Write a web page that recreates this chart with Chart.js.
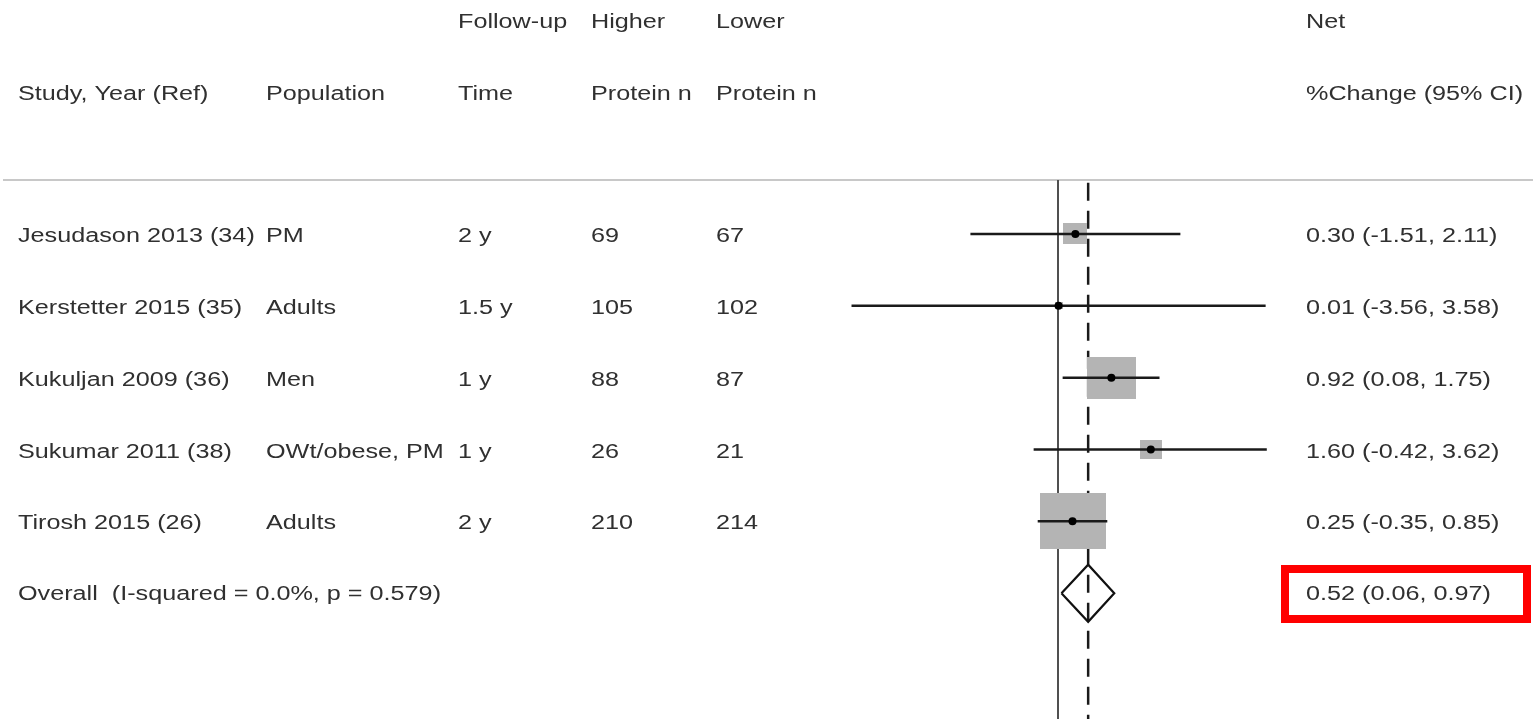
<!DOCTYPE html>
<html>
<head>
<meta charset="utf-8">
<script src="https://cdn.jsdelivr.net/npm/chart.js@4.4.1/dist/chart.umd.min.js"></script>
<style>
  html, body { margin: 0; padding: 0; background: #ffffff; overflow: hidden; }
  canvas { display: block; }
</style>
</head>
<body>
<canvas id="forest" width="1533" height="719"></canvas>
<script>
// Study rows
const studies    = ['Jesudason 2013 (34)', 'Kerstetter 2015 (35)', 'Kukuljan 2009 (36)', 'Sukumar 2011 (38)', 'Tirosh 2015 (26)'];
const population = ['PM', 'Adults', 'Men', 'OWt/obese, PM', 'Adults'];
const followUp   = ['2 y', '1.5 y', '1 y', '1 y', '2 y'];
const nHigher    = [69, 105, 88, 26, 210];
const nLower     = [67, 102, 87, 21, 214];
// Net % change with 95% CI
const estimate   = [0.30, 0.01, 0.92, 1.60, 0.25];
const ciLow      = [-1.51, -3.56, 0.08, -0.42, -0.35];
const ciHigh     = [2.11, 3.58, 1.75, 3.62, 0.85];
// Study weights (%), drive the box sizes
const weights    = [7.3, 0.9, 30.5, 6.1, 55.2];
// Pooled estimate
const overallEst = 0.52;
const overallLow = 0.06;
const overallHigh = 0.97;
const iSquared = '0.0%';
const pHet = '0.579';

// Column headings: [line 1, line 2]
const headers = [
  ['', 'Study, Year (Ref)'],
  ['', 'Population'],
  ['Follow-up', 'Time'],
  ['Higher', 'Protein n'],
  ['Lower', 'Protein n'],
  ['Net', '%Change (95% CI)']
];

const colX = [18, 266, 458, 591, 716, 1306];
const TEXT_COLOR = '#303030';
const FONT = '20px "Liberation Sans", Arial, Helvetica, sans-serif';
const TEXT_STRETCH = 1.26;

const fmt = v => v.toFixed(2);
const ciLabel = (e, l, h) => fmt(e) + ' (' + fmt(l) + ', ' + fmt(h) + ')';

// Gray weight box as a point image
function boxImage(w) {
  const width = Math.max(6, 8.88 * Math.sqrt(w));
  const height = width / 1.17;
  const c = document.createElement('canvas');
  c.width = Math.round(width);
  c.height = Math.round(height);
  const g = c.getContext('2d');
  g.fillStyle = '#b4b4b4';
  g.fillRect(0, 0, c.width, c.height);
  return c;
}
const boxImages = weights.map(boxImage);

const yMin = -0.75, yMax = 6.75;
const overallRow = studies.length;
const diamondHalf = 0.397;

const datasets = [];

// study point estimates
datasets.push({
  type: 'scatter',
  data: estimate.map((e, i) => ({ x: e, y: i })),
  pointRadius: 4,
  pointStyle: 'circle',
  backgroundColor: '#000000',
  borderColor: '#000000',
  borderWidth: 0,
  order: 0
});

// confidence intervals
studies.forEach((s, i) => {
  datasets.push({
    type: 'line',
    data: [{ x: ciLow[i], y: i }, { x: ciHigh[i], y: i }],
    borderColor: '#1a1a1a',
    borderWidth: 2.5,
    pointRadius: 0,
    fill: false,
    order: 1
  });
});

// weight boxes
datasets.push({
  type: 'scatter',
  data: estimate.map((e, i) => ({ x: e, y: i })),
  pointRadius: 5,
  pointStyle: ctx => boxImages[ctx.dataIndex],
  backgroundColor: '#b4b4b4',
  borderWidth: 0,
  order: 2
});

// pooled diamond
datasets.push({
  type: 'line',
  data: [
    { x: overallLow, y: overallRow },
    { x: overallEst, y: overallRow - diamondHalf },
    { x: overallHigh, y: overallRow },
    { x: overallEst, y: overallRow + diamondHalf },
    { x: overallLow, y: overallRow }
  ],
  borderColor: '#111111',
  borderWidth: 2.2,
  pointRadius: 0,
  fill: false,
  tension: 0,
  order: 3
});

// pooled estimate reference (dashed)
datasets.push({
  type: 'line',
  data: [{ x: overallEst, y: yMin + 0.04 }, { x: overallEst, y: yMax }],
  borderColor: '#1a1a1a',
  borderWidth: 2.5,
  borderDash: [18, 10],
  pointRadius: 0,
  fill: false,
  order: 4
});

// line of no effect
datasets.push({
  type: 'line',
  data: [{ x: 0, y: yMin }, { x: 0, y: yMax }],
  borderColor: '#505050',
  borderWidth: 2,
  pointRadius: 0,
  fill: false,
  order: 5
});

function drawText(ctx, text, x, y) {
  ctx.save();
  ctx.translate(x, y);
  ctx.scale(TEXT_STRETCH, 1);
  ctx.fillText(text, 0, 0);
  ctx.restore();
}

const tablePlugin = {
  id: 'forestTable',
  beforeDatasetsDraw(chart) {
    const ctx = chart.ctx;
    ctx.save();
    ctx.strokeStyle = '#c8c8c8';
    ctx.lineWidth = 2;
    ctx.beginPath();
    ctx.moveTo(3, chart.chartArea.top);
    ctx.lineTo(chart.width, chart.chartArea.top);
    ctx.stroke();
    ctx.restore();
  },
  afterDraw(chart) {
    const ctx = chart.ctx;
    const ys = chart.scales.y;
    ctx.save();
    ctx.font = FONT;
    ctx.fillStyle = TEXT_COLOR;
    ctx.textAlign = 'left';
    ctx.textBaseline = 'alphabetic';

    headers.forEach((h, c) => {
      if (h[0]) drawText(ctx, h[0], colX[c], 28);
      drawText(ctx, h[1], colX[c], 100);
    });

    studies.forEach((s, i) => {
      const y = ys.getPixelForValue(i) + 8;
      drawText(ctx, s, colX[0], y);
      drawText(ctx, population[i], colX[1], y);
      drawText(ctx, followUp[i], colX[2], y);
      drawText(ctx, String(nHigher[i]), colX[3], y);
      drawText(ctx, String(nLower[i]), colX[4], y);
      drawText(ctx, ciLabel(estimate[i], ciLow[i], ciHigh[i]), colX[5], y);
    });

    const yo = ys.getPixelForValue(overallRow) + 7;
    drawText(ctx, 'Overall  (I-squared = ' + iSquared + ', p = ' + pHet + ')', colX[0], yo);
    drawText(ctx, ciLabel(overallEst, overallLow, overallHigh), colX[5], yo);

    // highlight box round the pooled result
    ctx.strokeStyle = '#ff0000';
    ctx.lineWidth = 8;
    ctx.strokeRect(1285, 569, 242, 50);
    ctx.restore();
  }
};

new Chart(document.getElementById('forest'), {
  data: { datasets },
  options: {
    responsive: false,
    animation: false,
    events: [],
    layout: { autoPadding: false, padding: { left: 849.2, right: 266.2, top: 180, bottom: 0 } },
    plugins: { legend: { display: false }, tooltip: { enabled: false } },
    scales: {
      x: { type: 'linear', min: -3.6, max: 3.6, display: false },
      y: { type: 'linear', min: yMin, max: yMax, reverse: true, display: false }
    }
  },
  plugins: [tablePlugin]
});
</script>
</body>
</html>
